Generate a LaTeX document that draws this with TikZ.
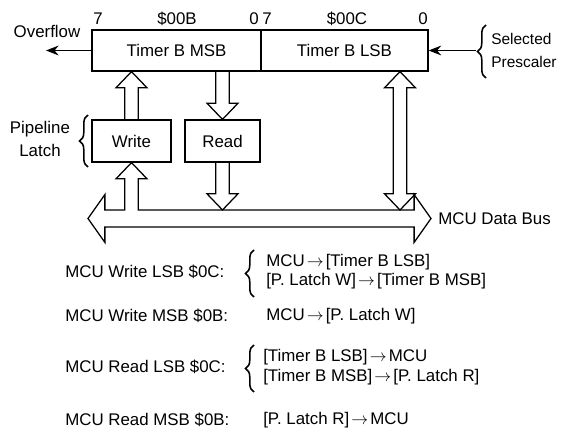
\documentclass[tikz,border=0pt]{standalone}
\usepackage{fontspec}
\setmainfont{Liberation Sans}
\usetikzlibrary{arrows.meta,calc,decorations.pathreplacing}

\newcommand\shaftw{4.8pt}
\newcommand\headw{11pt}
\newcommand\headl{11.5pt}
\newcommand\bush{6pt}
\newcommand\busw{17pt}
\newcommand\busl{12pt}
\newcommand\tto{\kern1.5pt\(\rightarrow\)\kern1.5pt}

\newcommand\hollowup[2]{%
  \draw[hol] let \p1=(#1), \p2=(#2) in
    (\x1-\shaftw,\y1) -- (\x1-\shaftw,\y2-\headl) -- (\x1-\headw,\y2-\headl) -- (\x1,\y2)
    -- (\x1+\headw,\y2-\headl) -- (\x1+\shaftw,\y2-\headl) -- (\x1+\shaftw,\y1);}
\newcommand\hollowdown[2]{%
  \draw[hol] let \p1=(#1), \p2=(#2) in
    (\x1-\shaftw,\y1) -- (\x1-\shaftw,\y2+\headl) -- (\x1-\headw,\y2+\headl) -- (\x1,\y2)
    -- (\x1+\headw,\y2+\headl) -- (\x1+\shaftw,\y2+\headl) -- (\x1+\shaftw,\y1);}
\newcommand\hollowboth[2]{%
  \draw[hol] let \p1=(#1), \p2=(#2) in
    (\x1,\y1) -- (\x1-\headw,\y1+\headl) -- (\x1-\shaftw,\y1+\headl) -- (\x1-\shaftw,\y2-\headl)
    -- (\x1-\headw,\y2-\headl) -- (\x1,\y2) -- (\x1+\headw,\y2-\headl) -- (\x1+\shaftw,\y2-\headl)
    -- (\x1+\shaftw,\y1+\headl) -- (\x1+\headw,\y1+\headl) -- cycle;}

\begin{document}
\begin{tikzpicture}[
  x=0.025cm, y=-0.025cm,
  font=\fontsize{12}{16}\selectfont,
  reg/.style={
    rectangle, draw, line width=0.85pt,
    minimum height=1.025cm
  },
  latch/.style={
    rectangle, draw, line width=0.85pt,
    minimum height=1.05cm
  },
  hol/.style={line width=0.9pt, line join=miter},
  sig/.style={-{Stealth[length=9pt,width=7pt]}, line width=0.9pt},
  brc/.style={decorate, decoration={brace, amplitude=6pt}, line width=1.1pt},
  lbl/.style={inner sep=0pt},
  ops/.style={inner sep=0pt, anchor=west, align=left, font=\fontsize{12}{14}\selectfont}
]
\useasboundingbox (0,0) rectangle (561,432);

\node[reg, minimum width=4.225cm] (msb) at (176.5,50.5) {Timer B MSB};
\node[reg, minimum width=4.175cm] (lsb) at (344.5,50.5) {Timer B LSB};
\node[latch, minimum width=1.975cm] (write) at (131.5,141) {Write};
\node[latch, minimum width=1.875cm] (read) at (222.5,141) {Read};

\foreach \x/\t [count=\i] in {98/7,177/\$00B,254/0,267/7,347/\$00C,423/0} {
  \node[lbl] (bit\i) at (\x,19) {\t};
}

\coordinate (ovf) at (46,50.5);
\node[lbl] (ovftxt) at (47,31) {Overflow};
\draw[sig] (msb.west) -- (ovf);

\coordinate (pre) at (476,50.5);
\draw[sig] (pre) -- (lsb.east);
\draw[brc] (486,78) -- (486,25);
\node[lbl, anchor=west, align=left, font=\fontsize{11}{16}\selectfont] (presc) at (491,50.5) {Selected\\Prescaler};

\draw[brc] (88,167) -- (88,115);
\node[lbl, align=center] (pipe) at (40,139) {Pipeline\\Latch};

\coordinate (busL) at (88,218.5);
\coordinate (busR) at (431,218.5);
\coordinate (bustop) at (0,210);
\coordinate (lsbtap) at (400,0);

\draw[hol] let \p1=(write.south), \p2=(busL), \p3=(busR) in
  (\p2) -- (\x2+\busl,\y2+\busw) -- (\x2+\busl,\y2+\bush)
  -- (\x1-\shaftw,\y2+\bush) -- (\x1-\shaftw,\y1-\headl) -- (\x1-\headw,\y1-\headl)
  -- (\p1) -- (\x1+\headw,\y1-\headl) -- (\x1+\shaftw,\y1-\headl) -- (\x1+\shaftw,\y2+\bush)
  -- (\x3-\busl,\y3+\bush) -- (\x3-\busl,\y3+\busw) -- (\p3)
  -- (\x3-\busl,\y3-\busw) -- (\x3-\busl,\y3-\bush) -- (\x2+\busl,\y2-\bush)
  -- (\x2+\busl,\y2-\busw) -- cycle;
\node[lbl, anchor=west] (bustxt) at (438,218.5) {MCU Data Bus};

\hollowup{write.north}{write.north |- msb.south}
\hollowdown{read.north |- msb.south}{read.north}
\hollowdown{read.south}{read.south |- bustop}
\hollowboth{lsbtap |- bustop}{lsbtap |- lsb.south}

\foreach \y/\t [count=\i] in {272/MCU Write LSB \$0C:,316/MCU Write MSB \$0B:,
    367/MCU Read LSB \$0C:,420/MCU Read MSB \$0B:} {
  \node[ops] (cyc\i) at (65,\y) {\t};
}

\draw[brc] (254,297) -- (254,250);
\node[ops] (wlsb) at (266,271.5) {MCU\tto [Timer B LSB]\\{}[P. Latch W]\tto [Timer B MSB]};
\node[ops] (wmsb) at (266,316) {MCU\tto [P. Latch W]};
\draw[brc] (254,392) -- (254,345);
\node[ops] (rlsb) at (263,367) {[Timer B LSB]\tto MCU\\{}[Timer B MSB]\tto [P. Latch R]};
\node[ops] (rmsb) at (263,420) {[P. Latch R]\tto MCU};
\end{tikzpicture}
\end{document}
